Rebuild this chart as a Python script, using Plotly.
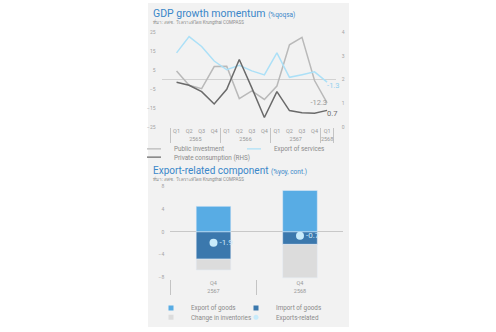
import plotly.graph_objects as go

W, H = 496, 332

# ---------------- data: GDP growth momentum ----------------
years_top = ["2565", "2565", "2565", "2565", "2566", "2566", "2566", "2566",
             "2567", "2567", "2567", "2567", "2568"]
quarters_top = ["Q1", "Q2", "Q3", "Q4", "Q1", "Q2", "Q3", "Q4",
                "Q1", "Q2", "Q3", "Q4", "Q1"]
public_investment = [4.6, -3.0, -4.8, 6.9, 7.0, -10.0, -6.0, -10.5, -3.4, 18.4, 22.3, -0.5, -12.3]
export_services = [14.1, 22.7, 17.5, 9.8, 5.2, 7.6, 4.6, 2.5, 14.1, 1.2, 2.6, 4.1, -1.3]
private_consumption = [1.89, 1.76, 1.49, 0.97, 1.59, 2.85, 1.65, 0.40, 1.49, 0.69, 0.60, 0.58, 0.7]
left_ticks = [-25, -15, -5, 5, 15, 25]
right_ticks = [0, 1, 2, 3, 4]

# ---------------- data: Export-related component ----------------
years_bot = ["2567", "2568"]
quarters_bot = ["Q4", "Q4"]
export_goods = [4.5, 7.3]
import_goods = [-4.8, -2.2]
change_inventories = [-1.9, -5.9]
exports_related = [-1.9, -0.7]
bot_ticks = [-8, -4, 0, 4, 8]

# ---------------- styles ----------------
C_PUB = "#b9b9b9"
C_SERV = "#ace0f7"
C_PRIV = "#6a6a6a"
C_EXG = "#58ace4"
C_IMG = "#3b78ad"
C_INV = "#dcdcdc"
C_DOT = "#c8ebfb"
C_TITLE = "#3a87c9"
C_AX = "#a4a4a4"
FONT = "Roboto, Noto Sans, DejaVu Sans, sans-serif"


def px_x(p):
    return p / W


def px_y(p):
    return 1 - p / H


def last_label(vals):
    return [""] * (len(vals) - 1) + [f"{vals[-1]:.1f}"]


fig = go.Figure()

# top chart lines
fig.add_trace(go.Scatter(
    x=[years_top, quarters_top], y=public_investment, mode="lines+text",
    line=dict(color=C_PUB, width=1.5), text=last_label(public_investment),
    textposition="middle left", textfont=dict(size=7.5, color="#9a9a9a", family=FONT),
    cliponaxis=False, showlegend=False, xaxis="x", yaxis="y"))
fig.add_trace(go.Scatter(
    x=[years_top, quarters_top], y=export_services, mode="lines+text",
    line=dict(color=C_SERV, width=1.5), text=last_label(export_services),
    textposition="bottom right", textfont=dict(size=7.5, color="#8fd0ef", family=FONT),
    cliponaxis=False, showlegend=False, xaxis="x", yaxis="y"))
fig.add_trace(go.Scatter(
    x=[years_top, quarters_top], y=private_consumption, mode="lines+text",
    line=dict(color=C_PRIV, width=1.5), text=last_label(private_consumption),
    textposition="bottom right", textfont=dict(size=7.5, color="#707070", family=FONT),
    cliponaxis=False, showlegend=False, xaxis="x", yaxis="y2"))

# legend entries (top)
for name, col, lg in [("Public investment", C_PUB, "legend"),
                      ("Export of services", C_SERV, "legend2"),
                      ("Private consumption (RHS)", C_PRIV, "legend3")]:
    fig.add_trace(go.Scatter(
        x=[[years_top[0]], [quarters_top[0]]], y=[None], mode="markers", name=name,
        marker=dict(symbol="line-ew", size=10, line=dict(color=col, width=1.2)),
        legend=lg, xaxis="x", yaxis="y"))

# bottom chart bars
fig.add_trace(go.Bar(x=[years_bot, quarters_bot], y=export_goods, marker_color=C_EXG,
                     width=0.4, showlegend=False, xaxis="x2", yaxis="y3"))
fig.add_trace(go.Bar(x=[years_bot, quarters_bot], y=import_goods, marker_color=C_IMG,
                     width=0.4, showlegend=False, xaxis="x2", yaxis="y3"))
fig.add_trace(go.Bar(x=[years_bot, quarters_bot], y=change_inventories, marker_color=C_INV,
                     width=0.4, showlegend=False, xaxis="x2", yaxis="y3"))
fig.add_trace(go.Scatter(
    x=[years_bot, quarters_bot], y=exports_related, mode="markers+text",
    marker=dict(size=8, color=C_DOT), text=[f"{v:.1f}" for v in exports_related],
    textposition="middle right", textfont=dict(size=8, color="#cfeafa", family=FONT),
    cliponaxis=False, showlegend=False, xaxis="x2", yaxis="y3"))

# legend entries (bottom)
for name, col, sym, lg in [("Export of goods", C_EXG, "square", "legend4"),
                           ("Import of goods", C_IMG, "square", "legend5"),
                           ("Change in inventories", C_INV, "square", "legend6"),
                           ("Exports-related", C_DOT, "circle", "legend7")]:
    fig.add_trace(go.Scatter(
        x=[[years_bot[0]], [quarters_bot[0]]], y=[None], mode="markers", name=name,
        marker=dict(symbol=sym, size=5, color=col), legend=lg, xaxis="x2", yaxis="y3"))

tickfont = dict(size=5, color=C_AX, family=FONT)
catfont = dict(size=5.5, color="#999999", family=FONT)

legend_common = dict(orientation="h", xanchor="left", yanchor="middle",
                     bgcolor="rgba(0,0,0,0)", borderwidth=0, itemsizing="trace",
                     font=dict(size=6.3, color="#8a8a8a", family=FONT))


def lg(xp, yp):
    d = dict(legend_common)
    d.update(x=px_x(xp), y=px_y(yp))
    return d


fig.update_layout(
    width=W, height=H, margin=dict(l=0, r=0, t=0, b=0),
    paper_bgcolor="white", plot_bgcolor="rgba(0,0,0,0)",
    barmode="relative", font=dict(family=FONT),
    xaxis=dict(domain=[px_x(161.6), px_x(335.8)], type="multicategory", anchor="y",
               tickfont=catfont, tickangle=0, showgrid=False, showline=False, ticks="",
               dividercolor="#c4c4c4", dividerwidth=1),
    yaxis=dict(domain=[px_y(127), px_y(30)], range=[-25, 25], tickvals=left_ticks,
               tickfont=tickfont, showgrid=False, zeroline=True, zerolinecolor="#d2d2d2",
               zerolinewidth=1, ticklabelstandoff=5),
    yaxis2=dict(overlaying="y", side="right", range=[0, 4], tickvals=right_ticks,
                tickfont=tickfont, showgrid=False, zeroline=False, anchor="x",
                ticklabelstandoff=5),
    xaxis2=dict(domain=[px_x(170.25), px_x(343.25)], type="multicategory", anchor="y3",
                tickfont=catfont, tickangle=0, showgrid=False, showline=False, ticks="",
                dividercolor="#c4c4c4", dividerwidth=1),
    yaxis3=dict(domain=[px_y(282.8), px_y(186.3)], range=[-8.3, 8.3], tickvals=bot_ticks,
                tickfont=tickfont, showgrid=False, zeroline=True, zerolinecolor="#c8c8c8",
                zerolinewidth=1, anchor="x2", ticklabelstandoff=5),
    legend=lg(134, 149.5), legend2=lg(234, 149.5), legend3=lg(134, 158),
    legend4=lg(151, 312.5), legend5=lg(236, 312.5),
    legend6=lg(151, 322), legend7=lg(236, 322),
    shapes=[dict(type="rect", xref="paper", yref="paper", x0=px_x(148), x1=px_x(349),
                 y0=0, y1=1, fillcolor="#f2f2f2", line=dict(width=0), layer="below")],
    annotations=[
        dict(xref="paper", yref="paper", x=px_x(151), y=px_y(10.5), xanchor="left",
             yanchor="middle", showarrow=False,
             text="GDP growth momentum <span style='font-size:6.5px'>(%qoqsa)</span>",
             font=dict(size=10.5, color=C_TITLE, family=FONT)),
        dict(xref="paper", yref="paper", x=px_x(151), y=px_y(19.5), xanchor="left",
             yanchor="middle", showarrow=False,
             text="ที่มา: สศช. วิเคราะห์โดย Krungthai COMPASS",
             font=dict(size=4.5, color="#8c8c8c", family=FONT)),
        dict(xref="paper", yref="paper", x=px_x(151), y=px_y(171.5), xanchor="left",
             yanchor="middle", showarrow=False,
             text="Export-related component <span style='font-size:6.5px'>(%yoy, cont.)</span>",
             font=dict(size=10, color=C_TITLE, family=FONT)),
        dict(xref="paper", yref="paper", x=px_x(151), y=px_y(180), xanchor="left",
             yanchor="middle", showarrow=False,
             text="ที่มา: สศช. วิเคราะห์โดย Krungthai COMPASS",
             font=dict(size=4.5, color="#8c8c8c", family=FONT)),
    ],
)

fig.write_html("out.html")
